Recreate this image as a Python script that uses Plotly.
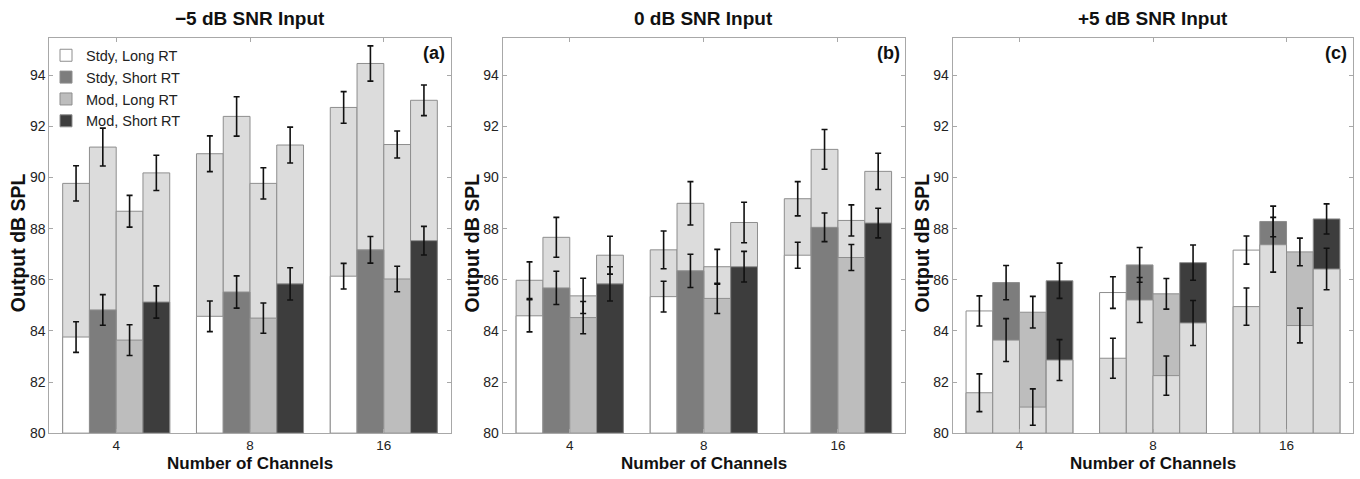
import plotly.graph_objects as go

# ---------------- data ----------------
CHANNELS = ["4", "8", "16"]
CONDITIONS = ["Stdy, Long RT", "Stdy, Short RT", "Mod, Long RT", "Mod, Short RT"]
COND_COLORS = ["#ffffff", "#7d7d7d", "#bdbdbd", "#3d3d3d"]
OVERLAY_COLOR = "#dcdcdc"
PANEL_TITLES = ["\u22125 dB SNR Input", "0 dB SNR Input", "+5 dB SNR Input"]
PANEL_TAGS = ["(a)", "(b)", "(c)"]
Y_TICKS = [80, 82, 84, 86, 88, 90, 92, 94]

# rows = conditions (SL, SS, ML, MS); columns = 4, 8, 16 channels
A_MAIN = [[83.76, 84.57, 86.14], [84.82, 85.52, 87.17], [83.64, 84.50, 86.03], [85.13, 85.84, 87.53]]
A_MAIN_ERR = [[0.60, 0.60, 0.50], [0.60, 0.63, 0.52], [0.60, 0.59, 0.50], [0.63, 0.63, 0.56]]
A_OVER = [[89.77, 90.93, 92.74], [91.19, 92.39, 94.46], [88.68, 89.77, 91.29], [90.18, 91.27, 93.02]]
A_OVER_ERR = [[0.69, 0.70, 0.62], [0.74, 0.77, 0.69], [0.62, 0.61, 0.53], [0.69, 0.70, 0.60]]

B_MAIN = [[84.59, 85.34, 86.96], [85.68, 86.35, 88.05], [84.52, 85.27, 86.87], [85.84, 86.51, 88.22]]
B_MAIN_ERR = [[0.63, 0.60, 0.51], [0.65, 0.65, 0.56], [0.63, 0.59, 0.51], [0.67, 0.60, 0.58]]
B_OVER = [[85.98, 87.17, 89.17], [87.66, 88.99, 91.10], [85.37, 86.51, 88.32], [86.96, 88.24, 90.24]]
B_OVER_ERR = [[0.72, 0.74, 0.67], [0.78, 0.85, 0.78], [0.69, 0.68, 0.61], [0.74, 0.79, 0.71]]

C_MAIN = [[84.78, 85.50, 87.16], [85.89, 86.58, 88.28], [84.73, 85.45, 87.09], [85.96, 86.67, 88.38]]
C_MAIN_ERR = [[0.59, 0.62, 0.55], [0.67, 0.68, 0.60], [0.62, 0.60, 0.54], [0.69, 0.69, 0.59]]
C_OVER = [[81.58, 82.93, 84.95], [83.64, 85.21, 87.37], [81.02, 82.25, 84.21], [82.86, 84.31, 86.42]]
C_OVER_ERR = [[0.74, 0.78, 0.73], [0.84, 0.88, 1.07], [0.71, 0.77, 0.68], [0.80, 0.88, 0.81]]

PANELS = [
    (A_MAIN, A_MAIN_ERR, A_OVER, A_OVER_ERR),
    (B_MAIN, B_MAIN_ERR, B_OVER, B_OVER_ERR),
    (C_MAIN, C_MAIN_ERR, C_OVER, C_OVER_ERR),
]

# ---------------- layout geometry ----------------
W, H = 1360, 479
X_DOMAINS = [(49.3, 450.7), (502.7, 905.0), (952.7, 1353.3)]
Y_DOMAIN = ((H - 440.5) / H, (H - 38.3) / H)
FONT = "Liberation Sans, Arial, Helvetica, sans-serif"
EDGE = "#8e8e8e"
FRAME = "#a8a8a8"

fig = go.Figure()


def add_bar(vals, errs, color, name, group, xa, ya, showlegend):
    fig.add_trace(go.Bar(
        x=CHANNELS, y=[v - 80 for v in vals], base=80,
        name=name, offsetgroup=group, legendgroup=name,
        showlegend=showlegend,
        marker=dict(color=color, line=dict(color=EDGE, width=1)),
        error_y=dict(type="data", array=errs, color="#111111", thickness=1.6, width=3),
        xaxis=xa, yaxis=ya,
    ))


for p, (main, main_err, over, over_err) in enumerate(PANELS):
    xa = "x" if p == 0 else f"x{p + 1}"
    ya = "y" if p == 0 else f"y{p + 1}"
    over_first = sum(map(sum, over)) > sum(map(sum, main))
    order = ["over", "main"] if over_first else ["main", "over"]
    for which in order:
        for c in range(4):
            if which == "main":
                add_bar(main[c], main_err[c], COND_COLORS[c], CONDITIONS[c], CONDITIONS[c],
                        xa, ya, showlegend=(p == 0))
            else:
                add_bar(over[c], over_err[c], OVERLAY_COLOR, CONDITIONS[c] + " (overlay)",
                        CONDITIONS[c], xa, ya, showlegend=False)

layout = dict(
    width=W, height=H,
    margin=dict(l=0, r=0, t=0, b=0),
    paper_bgcolor="white", plot_bgcolor="white",
    barmode="group", bargap=0.2, bargroupgap=0,
    font=dict(family=FONT, size=14, color="#222222"),
    showlegend=True,
    legend=dict(x=46 / W, y=1 - 40 / H, xanchor="left", yanchor="top",
                bgcolor="rgba(0,0,0,0)", font=dict(size=14.5, color="#222222"),
                traceorder="normal", itemclick=False, tracegroupgap=0),
)

annotations = []


def note(text, x, y, size, **kw):
    d = dict(text=text, x=x / W, y=1 - y / H, xref="paper", yref="paper", showarrow=False,
             xanchor="center", yanchor="middle", font=dict(size=size, color="#111111"))
    d.update(kw)
    annotations.append(d)


for p in range(3):
    sx = "" if p == 0 else str(p + 1)
    x0, x1 = X_DOMAINS[p]
    layout[f"xaxis{sx}"] = dict(
        domain=[x0 / W, x1 / W], anchor=f"y{sx}",
        type="category", range=[-0.5, 2.5],
        showline=True, linecolor=FRAME, linewidth=1, mirror="allticks",
        ticks="inside", ticklen=4, tickcolor=FRAME, ticklabelstandoff=0,
        showgrid=False, zeroline=False, fixedrange=True,
        tickfont=dict(size=13.5, color="#222222"),
    )
    layout[f"yaxis{sx}"] = dict(
        domain=list(Y_DOMAIN), anchor=f"x{sx}",
        range=[80, 95.47], tickvals=Y_TICKS,
        showline=True, linecolor=FRAME, linewidth=1, mirror="allticks",
        ticks="inside", ticklen=4, tickcolor=FRAME,
        showgrid=False, zeroline=False, fixedrange=True,
        tickfont=dict(size=14, color="#222222"),
    )
    cx = (x0 + x1) / 2
    note(f"<b>{PANEL_TITLES[p]}</b>", cx, 18.5, 19)
    note("<b>Number of Channels</b>", cx, 471.5, 17, borderpad=0)
    note("<b>Output dB SPL</b>", x0 - 31, 247, 19.5, textangle=-90)
    note(f"<b>{PANEL_TAGS[p]}</b>", x1 - 17, 54, 18)

layout["annotations"] = annotations
fig.update_layout(**layout)
fig.write_html("out.html")
